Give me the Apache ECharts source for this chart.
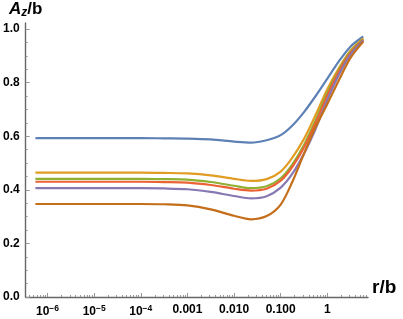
<!DOCTYPE html>
<html>
<head>
<meta charset="utf-8">
<script src="https://cdn.jsdelivr.net/npm/echarts@6/dist/echarts.min.js"></script>
<style>
html,body{margin:0;padding:0;background:#fff;}
#chart{width:403px;height:319px;}
</style>
</head>
<body>
<div id="chart"></div>
<script>
// r/b sample positions
var rValues = [5.5e-7, 1e-6, 1e-5, 1e-4, 3.16e-4, 1e-3, 3.16e-3, 0.01, 0.023, 0.05, 0.1, 0.178, 0.316, 0.562, 1, 1.78, 3.16, 5.9];
// A_z/b values for each curve
var blueVals   = [0.593,0.593,0.593,0.593,0.592,0.591,0.588,0.580,0.576,0.585,0.604,0.640,0.690,0.750,0.815,0.880,0.935,0.972];
var orangeVals = [0.464,0.464,0.464,0.464,0.463,0.461,0.454,0.441,0.433,0.440,0.468,0.520,0.590,0.680,0.775,0.855,0.920,0.965];
var greenVals  = [0.441,0.441,0.441,0.441,0.440,0.438,0.429,0.415,0.406,0.413,0.443,0.495,0.567,0.660,0.762,0.848,0.916,0.962];
var redVals    = [0.430,0.430,0.430,0.430,0.429,0.427,0.418,0.404,0.397,0.404,0.434,0.486,0.558,0.650,0.752,0.842,0.912,0.960];
var purpleVals = [0.406,0.406,0.406,0.406,0.405,0.402,0.392,0.377,0.368,0.376,0.408,0.460,0.535,0.628,0.735,0.830,0.905,0.957];
var brownVals  = [0.347,0.347,0.347,0.347,0.346,0.342,0.327,0.303,0.290,0.302,0.345,0.430,0.535,0.635,0.720,0.810,0.893,0.953];

// tick labels
var xMajorTicks = [1e-6, 1e-5, 1e-4, 1e-3, 1e-2, 1e-1, 1];
var xTickLabels = ['10^6', '10^5', '10^4', '0.001', '0.010', '0.100', '1'];
var yMajorTicks = [0, 0.2, 0.4, 0.6, 0.8, 1.0];
var yTickLabels = ['0.0', '0.2', '0.4', '0.6', '0.8', '1.0'];

var FONT = '"Liberation Sans", Arial, sans-serif';
var colors = ['#5E81B5', '#E19C24', '#8FB032', '#EB6235', '#8778B3', '#C56E1A'];
var allSeries = [blueVals, orangeVals, greenVals, redVals, purpleVals, brownVals];

function lg(v) { return Math.log10(v); }
var xMin = -6.468, xMax = 0.872;
var yMin = 0, yMax = 1.0224;

var xMajorLog = xMajorTicks.map(lg);
var xMinorLog = [];
for (var n = -7; n <= 0; n++) {
  for (var k = 2; k <= 9; k++) {
    var v = n + Math.log10(k);
    if (v > xMin && v < xMax) xMinorLog.push(v);
  }
}
var yMinor = [];
for (var i = 1; i <= 20; i++) { if (i % 4 !== 0) yMinor.push(+(i * 0.05).toFixed(2)); }

function xLabel(val) {
  for (var i = 0; i < xMajorLog.length; i++) {
    if (Math.abs(xMajorLog[i] - val) < 1e-6) {
      var t = xTickLabels[i];
      if (t.indexOf('^') >= 0) {
        var p = t.split('^');
        return '{b|' + p[0] + '}{s|\u2212' + p[1] + '}';
      }
      return '{b|' + t + '}';
    }
  }
  return '';
}
function yLabel(val) {
  for (var i = 0; i < yMajorTicks.length; i++) {
    if (Math.abs(yMajorTicks[i] - val) < 1e-6) return yTickLabels[i];
  }
  return '';
}

var axisColor = '#666';
var tickColor = '#999';

var chart = echarts.init(document.getElementById('chart'), null, {renderer: 'canvas'});
chart.setOption({
  animation: false,
  backgroundColor: '#fff',
  grid: {left: 23, right: 35, top: 23, bottom: 22, containLabel: false},
  xAxis: [{
    type: 'value', min: xMin, max: xMax,
    splitLine: {show: false},
    axisLine: {show: true, onZero: false, lineStyle: {color: axisColor, width: 1.4}},
    axisTick: {show: true, inside: true, length: 4, customValues: xMajorLog, lineStyle: {color: tickColor, width: 1}},
    axisLabel: {
      show: true, margin: 7, customValues: xMajorLog, formatter: xLabel,
      rich: {
        b: {fontFamily: FONT, fontWeight: 'bold', fontSize: 12, color: '#000'},
        s: {fontFamily: FONT, fontWeight: 'bold', fontSize: 8.5, color: '#000', padding: [0, 0, 7, 0]}
      }
    },
    name: 'r/b', nameLocation: 'end', nameGap: 4,
    nameTextStyle: {fontFamily: FONT, fontWeight: 'bold', fontSize: 19, color: '#000', verticalAlign: 'bottom', padding: [0, 0, 0, 0]}
  }, {
    type: 'value', min: xMin, max: xMax, gridIndex: 0, position: 'bottom',
    splitLine: {show: false},
    axisLine: {show: false, onZero: false},
    axisLabel: {show: false},
    axisTick: {show: true, inside: true, length: 2, customValues: xMinorLog, lineStyle: {color: tickColor, width: 1}}
  }],
  yAxis: [{
    type: 'value', min: yMin, max: yMax,
    splitLine: {show: false},
    axisLine: {show: true, onZero: false, lineStyle: {color: axisColor, width: 1.4}},
    axisTick: {show: true, inside: true, length: 4, customValues: yMajorTicks, lineStyle: {color: tickColor, width: 1}},
    axisLabel: {show: true, margin: 6, customValues: yMajorTicks, formatter: yLabel,
      fontFamily: FONT, fontWeight: 'bold', fontSize: 12, color: '#000'},
    name: '{a|A}{z|z}{c|/b}', nameLocation: 'end', nameGap: 4,
    nameTextStyle: {
      verticalAlign: 'bottom', align: 'center',
      rich: {
        a: {fontFamily: FONT, fontWeight: 'bold', fontStyle: 'italic', fontSize: 17, color: '#000'},
        z: {fontFamily: FONT, fontWeight: 'bold', fontStyle: 'italic', fontSize: 12, color: '#000', padding: [8, 0, 0, 0]},
        c: {fontFamily: FONT, fontWeight: 'bold', fontSize: 17, color: '#000'}
      }
    }
  }, {
    type: 'value', min: yMin, max: yMax, gridIndex: 0, position: 'left',
    splitLine: {show: false},
    axisLine: {show: false, onZero: false},
    axisLabel: {show: false},
    axisTick: {show: true, inside: true, length: 2, customValues: yMinor, lineStyle: {color: tickColor, width: 1}}
  }],
  series: allSeries.map(function (vals, idx) {
    return {
      type: 'line', xAxisIndex: 0, yAxisIndex: 0,
      data: rValues.map(function (r, j) { return [lg(r), vals[j]]; }),
      showSymbol: false, smooth: 0.3,
      lineStyle: {color: colors[idx], width: 2.2},
      itemStyle: {color: colors[idx]},
      z: 2 + idx
    };
  })
});
</script>
</body>
</html>
